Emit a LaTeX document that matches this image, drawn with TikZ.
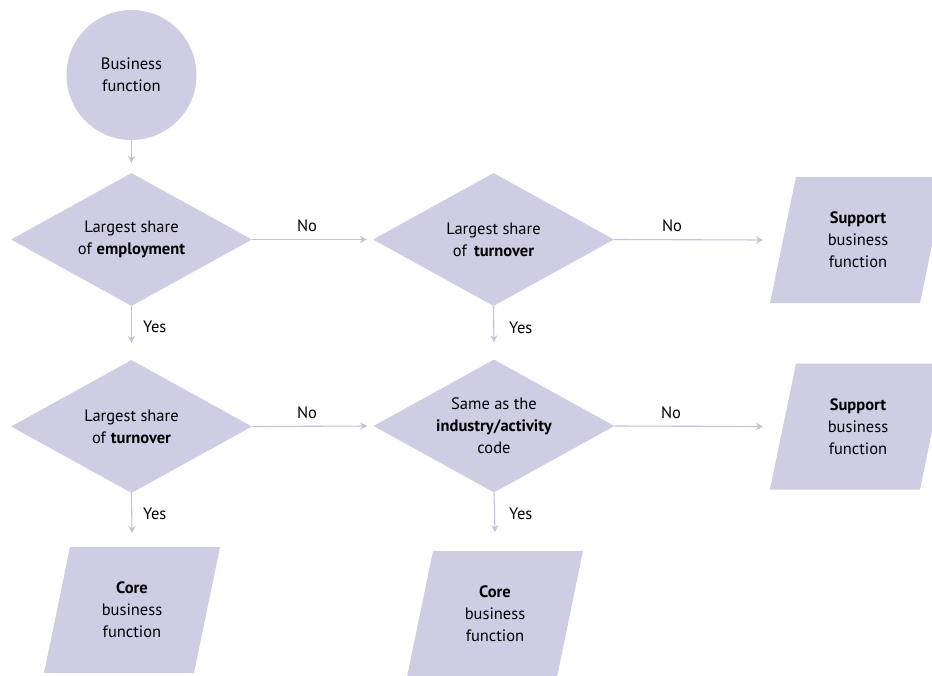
\documentclass[tikz,border=0pt]{standalone}
\usepackage{fontspec}
\setmainfont{PT Sans}
\usetikzlibrary{shapes.geometric,arrows.meta,calc}
\definecolor{shapefill}{HTML}{CFCDE4}
\definecolor{arrowcol}{HTML}{C3C1DC}
\begin{document}
\begin{tikzpicture}[x=1pt,y=-1pt,
  txt/.style={font=\fontsize{16.5}{22}\selectfont, align=center, inner sep=0pt, text=black},
  lbl/.style={font=\fontsize{16.5}{22}\selectfont, inner sep=0pt, text=black},
  dia/.style={diamond, fill=shapefill, draw=none, minimum width=241pt, minimum height=133pt, inner sep=0pt},
  startc/.style={circle, fill=shapefill, draw=none, minimum size=130pt, inner sep=0pt},
  arr/.style={draw=arrowcol, line width=1.1pt, -{Stealth[length=7pt,width=7pt]}},
  pfill/.style={fill=shapefill, draw=none}
]
\useasboundingbox (0,0) rectangle (932,675);

% start circle
\node[startc] (start) at (131.5,75) {};
\node[txt] (startt) at (start) {Business\\function};

% diamonds
\node[dia] (d1) at (131.5,239.5) {};
\node[txt] (d1t) at (d1) {Largest share\\of \textbf{employment}};
\node[dia] (d2) at (493.5,239.5) {};
\node[txt] (d2t) at (d2) {Largest share\\of\, \textbf{turnover}};
\node[dia] (d3) at (131.5,426.5) {};
\node[txt] (d3t) at (d3) {Largest share\\of \textbf{turnover}};
\node[dia] (d4) at (494,426) {};
\node[txt] (d4t) at (d4) {Same as the\\\textbf{industry/activity}\\code};

% parallelograms
\coordinate (p1) at (858,240);
\coordinate (p2) at (858,426.5);
\coordinate (p3) at (132,610);
\coordinate (p4) at (495,614);
\foreach \c in {p1,p2,p3,p4}{
  \fill[pfill] ($(\c)+(-88,63)$) -- ($(\c)+(62,63)$) -- ($(\c)+(88,-63)$) -- ($(\c)+(-62,-63)$) -- cycle;
}
\node[txt] (p1t) at (p1) {\textbf{Support}\\business\\function};
\node[txt] (p2t) at (p2) {\textbf{Support}\\business\\function};
\node[txt] (p3t) at (p3) {\textbf{Core}\\business\\function};
\node[txt] (p4t) at (p4) {\textbf{Core}\\business\\function};

% connectors
\draw[arr] (start.south) -- ($(d1.north)+(0,-10)$);
\draw[arr] (d1.east) -- ($(d2.west)+(-6,0)$);
\draw[arr] (d2.east) -- ($(p1)+(-95,0)$);
\draw[arr] (d1.south) -- ($(d3.north)+(0,-17)$);
\draw[arr] (d2.south) -- ($(d4.north)+(0,-17)$);
\draw[arr] (d3.east) -- ($(d4.west)+(-6,0)$);
\draw[arr] (d4.east) -- ($(p2)+(-95,0)$);
\draw[arr] (d3.south) -- ($(p3)+(0,-77)$);
\draw[arr] (d4.south) -- ($(p4)+(0,-82)$);

% labels
\node[lbl] (n1) at (307,226) {No};
\node[lbl] (n2) at (672,226) {No};
\node[lbl] (n3) at (307,413) {No};
\node[lbl] (n4) at (671,413) {No};
\node[lbl, anchor=west] (y1) at (143,327) {Yes};
\node[lbl, anchor=west] (y2) at (509,328) {Yes};
\node[lbl, anchor=west] (y3) at (143,514) {Yes};
\node[lbl, anchor=west] (y4) at (509,514) {Yes};
\end{tikzpicture}
\end{document}
